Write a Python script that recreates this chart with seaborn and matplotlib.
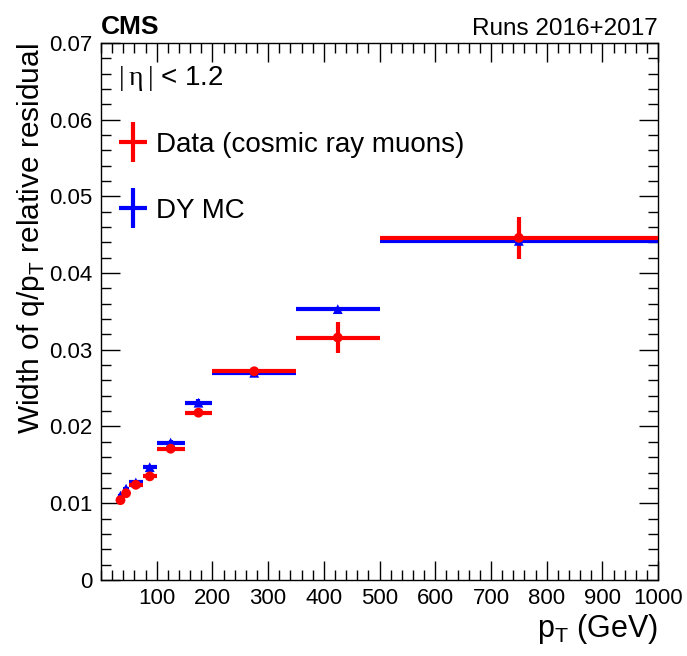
import matplotlib
matplotlib.use("Agg")
import matplotlib.pyplot as plt
import numpy as np
import pandas as pd
import seaborn as sns
from matplotlib.ticker import MultipleLocator
from matplotlib.container import ErrorbarContainer
from matplotlib.legend_handler import HandlerErrorbar

# pT bins (GeV)
bin_lo = [30, 40, 50, 75, 100, 150, 200, 350, 500]
bin_hi = [40, 50, 75, 100, 150, 200, 350, 500, 1000]

# Width of the q/pT relative residual
data_width = [0.0104, 0.0113, 0.0124, 0.0135, 0.0171, 0.0218, 0.0272, 0.0316, 0.0446]
data_err = [0.0003, 0.0003, 0.0003, 0.0004, 0.0004, 0.0005, 0.0006, 0.0020, 0.0027]
mc_width = [0.0110, 0.0119, 0.0127, 0.0147, 0.0179, 0.0231, 0.0270, 0.0353, 0.0442]
mc_err = [0.0002, 0.0002, 0.0002, 0.0003, 0.0003, 0.0005, 0.0004, 0.0003, 0.0004]

lo = np.array(bin_lo, float)
hi = np.array(bin_hi, float)
centre = (lo + hi) / 2
half = (hi - lo) / 2

df = pd.DataFrame({
    "pt": np.concatenate([centre, centre]),
    "width": np.concatenate([mc_width, data_width]),
    "sample": ["DY MC"] * len(centre) + ["Data (cosmic ray muons)"] * len(centre),
})

sns.set_theme(style="ticks")
plt.rcParams["font.family"] = ["Liberation Sans", "DejaVu Sans"]
plt.rcParams.update({"text.color": "black", "axes.labelcolor": "black",
                     "xtick.color": "black", "ytick.color": "black",
                     "mathtext.fontset": "custom",
                     "mathtext.rm": "Liberation Sans",
                     "mathtext.sf": "Liberation Serif"})

fig = plt.figure(figsize=(6.87, 6.56), dpi=100)
ax = fig.add_axes([0.147, 0.116, 0.811, 0.8185])

BLUE = "#0000ff"
RED = "#ff0000"
LW = 3.0

h_mc = ax.errorbar(centre, mc_width, xerr=half, yerr=mc_err, fmt="none",
                   ecolor=BLUE, elinewidth=LW, capsize=0, zorder=2)
h_data = ax.errorbar(centre, data_width, xerr=half, yerr=data_err, fmt="none",
                     ecolor=RED, elinewidth=LW, capsize=0, zorder=4)

sns.scatterplot(data=df, x="pt", y="width", hue="sample", style="sample",
                palette={"DY MC": BLUE, "Data (cosmic ray muons)": RED},
                markers={"DY MC": "^", "Data (cosmic ray muons)": "o"},
                s=50, linewidth=0, legend=False, ax=ax, zorder=5)

ax.set_xlim(0, 1000)
ax.set_ylim(0, 0.07)
ax.xaxis.set_minor_locator(MultipleLocator(20))
ax.yaxis.set_minor_locator(MultipleLocator(0.002))
ax.tick_params(which="both", direction="in", top=True, right=True,
               labelsize=16, pad=6)
ax.tick_params(which="major", length=14, width=1.0)
ax.tick_params(which="minor", length=7, width=1.0)
ax.set_xticks(np.arange(100, 1001, 100))
ax.set_xticklabels([str(v) for v in range(100, 1001, 100)])
ax.set_yticks(np.arange(0, 0.0701, 0.01))
ax.set_yticklabels(["0", "0.01", "0.02", "0.03", "0.04", "0.05", "0.06", "0.07"])
for s in ax.spines.values():
    s.set_linewidth(1.0)
    s.set_color("black")

ax.set_xlabel("p$_\\mathregular{T}$ (GeV)", fontsize=22, loc="right", labelpad=2)
ax.set_ylabel("Width of q/p$_\\mathregular{T}$ relative residual", fontsize=21.5,
              loc="top", labelpad=2)

fig.text(0.147, 0.948, "CMS", fontsize=19, fontweight="bold", ha="left", va="baseline")
fig.text(0.958, 0.947, "Runs 2016+2017", fontsize=17.5, ha="right", va="baseline")
ax.text(0.03, 0.922, r"$\mathsf{|\,\eta\,|}$ < 1.2", fontsize=20, transform=ax.transAxes,
        ha="left", va="baseline")

leg = ax.legend([h_data, h_mc], ["Data (cosmic ray muons)", "DY MC"],
                loc="upper left", bbox_to_anchor=(-0.018, 0.881), frameon=False,
                fontsize=20, handlelength=1.2, handletextpad=0.25,
                labelspacing=1.45, borderaxespad=0.5,
                handler_map={ErrorbarContainer: HandlerErrorbar(xerr_size=0.5, yerr_size=0.72)})

fig.savefig("out.png", dpi=100)
